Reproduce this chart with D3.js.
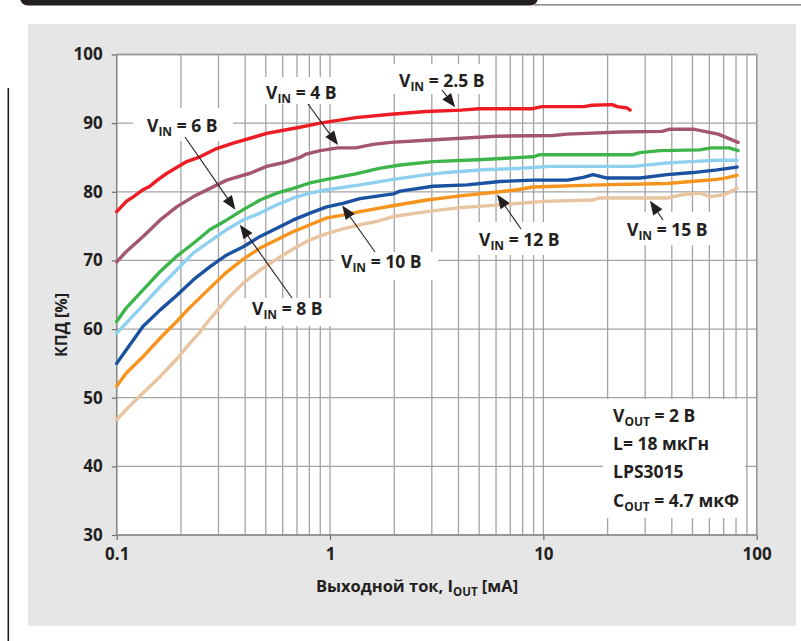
<!DOCTYPE html>
<html>
<head>
<meta charset="utf-8">
<script src="https://cdn.jsdelivr.net/npm/d3@7"></script>
<style>
  html, body { margin: 0; padding: 0; background: #ffffff; }
  svg { display: block; }
  text { font-family: "Open Sans", "Noto Sans", sans-serif; font-weight: 700; fill: #231f20; }
</style>
</head>
<body>
<svg id="chart" width="801" height="641"></svg>
<script>
// Efficiency vs output current, one [I_OUT mA, efficiency %] list per input voltage
const vin2_5 = [[0.1,77.1],[0.111,78.6],[0.12,79.3],[0.133,80.3],[0.143,80.8],[0.155,81.7],[0.172,82.7],[0.213,84.4],[0.246,85.1],[0.294,86.3],[0.352,87.1],[0.422,87.8],[0.505,88.5],[0.615,89.0],[0.723,89.4],[0.898,90.0],[1.32,90.8],[1.93,91.3],[2.82,91.7],[4.11,91.9],[4.99,92.1],[8.85,92.1],[9.86,92.4],[15.5,92.4],[16.9,92.6],[21.0,92.7],[22.2,92.4],[24.7,92.2],[25.5,91.9]];
const vin4 = [[0.1,69.8],[0.111,71.3],[0.133,73.5],[0.16,75.9],[0.191,77.8],[0.229,79.3],[0.274,80.5],[0.328,81.7],[0.422,82.7],[0.505,83.7],[0.615,84.3],[0.723,85.0],[0.772,85.5],[0.9,86.0],[1.09,86.4],[1.32,86.4],[1.59,86.9],[1.93,87.2],[2.82,87.5],[4.11,87.8],[6.0,88.1],[11.1,88.2],[12.9,88.4],[22.9,88.7],[36.0,88.8],[38.8,89.1],[51.0,89.1],[59.2,88.7],[66.0,88.4],[81.8,87.2]];
const vin6 = [[0.1,61.1],[0.111,63.1],[0.133,65.7],[0.16,68.4],[0.191,70.6],[0.229,72.5],[0.274,74.5],[0.328,75.9],[0.392,77.4],[0.47,78.8],[0.563,79.8],[0.673,80.5],[0.806,81.3],[0.965,81.8],[1.32,82.6],[1.7,83.4],[2.13,83.9],[3.04,84.4],[5.22,84.7],[8.95,85.1],[9.65,85.4],[26.3,85.4],[28.4,85.7],[35.2,86.0],[54.0,86.1],[61.2,86.4],[74.2,86.4],[81.8,86.0]];
const vin8 = [[0.1,59.4],[0.111,60.9],[0.133,63.5],[0.16,66.2],[0.191,68.6],[0.229,71.1],[0.274,72.8],[0.328,74.5],[0.392,75.9],[0.47,76.9],[0.563,78.1],[0.673,79.1],[0.806,79.8],[0.965,80.3],[1.38,81.0],[1.98,81.8],[2.84,82.5],[3.5,82.8],[5.22,83.2],[7.53,83.4],[10.75,83.7],[26.3,83.7],[38.0,84.2],[48.8,84.4],[65.2,84.6],[80.9,84.6]];
const vin10 = [[0.1,55.0],[0.111,57.0],[0.133,60.4],[0.16,62.8],[0.191,64.9],[0.229,67.2],[0.274,69.1],[0.328,70.8],[0.392,72.0],[0.47,73.5],[0.563,74.7],[0.673,75.9],[0.806,76.9],[0.965,77.8],[1.15,78.3],[1.38,79.0],[1.98,79.7],[2.13,80.1],[3.04,80.8],[4.39,81.0],[6.27,81.5],[8.95,81.7],[13.0,81.7],[15.4,82.1],[17.1,82.5],[19.9,82.0],[28.4,82.0],[38.0,82.5],[50.3,82.8],[65.2,83.2],[80.9,83.6]];
const vin12 = [[0.1,51.7],[0.111,53.6],[0.133,56.0],[0.16,58.7],[0.191,61.1],[0.221,63.2],[0.274,66.0],[0.328,68.3],[0.392,70.2],[0.47,71.8],[0.563,73.0],[0.673,74.2],[0.806,75.2],[0.965,76.2],[1.15,76.6],[1.38,77.1],[2.0,78.0],[2.84,78.8],[4.07,79.4],[6.27,80.0],[7.53,80.3],[8.95,80.7],[18.3,81.0],[38.0,81.2],[54.3,81.6],[65.2,81.8],[71.0,82.0],[80.9,82.4]];
const vin15 = [[0.1,46.8],[0.111,48.3],[0.133,50.7],[0.16,53.1],[0.191,55.6],[0.213,57.4],[0.246,59.6],[0.274,61.5],[0.328,64.3],[0.392,66.7],[0.47,68.6],[0.563,70.2],[0.673,71.7],[0.806,73.0],[0.965,73.9],[1.15,74.6],[1.38,75.2],[1.66,75.7],[1.98,76.4],[2.84,77.1],[4.07,77.7],[6.27,78.1],[10.1,78.6],[17.1,78.8],[18.3,79.1],[38.0,79.1],[45.3,79.6],[54.3,79.8],[60.5,79.3],[71.0,79.6],[80.9,80.5]];

const seriesNames = ["2.5", "4", "6", "8", "10", "12", "15"];
const seriesColors = ["#ed1c24", "#a4566f", "#3db54a", "#8fd0f0", "#1a51a0", "#f7941e", "#e8c4a0"];
const seriesData = [vin2_5, vin4, vin6, vin8, vin10, vin12, vin15];

const xTickValues = [0.1, 1, 10, 100];
const xTickLabels = ["0.1", "1", "10", "100"];
const yTickValues = [30, 40, 50, 60, 70, 80, 90, 100];

// Callout for each curve: label anchor (px), white backing box (px), arrow tail (px), arrow tip (data)
const callouts = [
  { name: "6",   tx: 147, ty: 132, box: [133, 108, 100, 33], tail: [185, 137], tip: [0.36, 77.4] },
  { name: "4",   tx: 266, ty: 99,  box: [256, 77, 92, 27],   tail: [308, 104], tip: [1.09, 86.8] },
  { name: "2.5", tx: 399, ty: 87,  box: [390, 64, 104, 30],  tail: [442, 90],  tip: [3.86, 92.3] },
  { name: "8",   tx: 252, ty: 315, box: [244, 298, 90, 28],  tail: [292, 298], tip: [0.378, 75.2] },
  { name: "10",  tx: 341, ty: 268, box: [334, 252, 104, 28], tail: [375, 252], tip: [1.14, 78.0] },
  { name: "12",  tx: 479, ty: 246, box: [470, 222, 96, 33],  tail: [521, 229], tip: [6.07, 79.6] },
  { name: "15",  tx: 627, ty: 236, box: [620, 212, 98, 33],  tail: [663, 220], tip: [31.6, 78.7] }
];

const legendLines = [
  { main: "V", sub: "OUT", rest: " = 2 В" },
  { main: "L= 18 мкГн", sub: "", rest: "" },
  { main: "LPS3015", sub: "", rest: "" },
  { main: "C", sub: "OUT", rest: " = 4.7 мкФ" }
];

const svg = d3.select("#chart");

// Page furniture: header bar, rule line, left margin line, grey panel
svg.append("rect").attr("x", 20).attr("y", -10).attr("width", 518).attr("height", 15.5)
  .attr("rx", 8).attr("fill", "#231f20");
svg.append("line").attr("x1", 534).attr("x2", 801).attr("y1", 4.8).attr("y2", 4.8)
  .attr("stroke", "#6d6d6d").attr("stroke-width", 1.3);
svg.append("line").attr("x1", 8.3).attr("x2", 8.3).attr("y1", 88).attr("y2", 641)
  .attr("stroke", "#231f20").attr("stroke-width", 1.6);
svg.append("rect").attr("x", 28).attr("y", 24).attr("width", 768).attr("height", 602)
  .attr("fill", "#e6e6e6");

const x = d3.scaleLog().domain([0.1, 100]).range([116.7, 756.7]);
const y = d3.scaleLinear().domain([30, 100]).range([535, 54.5]);

// Plot area
svg.append("rect").attr("x", x(0.1)).attr("y", y(100))
  .attr("width", x(100) - x(0.1)).attr("height", y(30) - y(100)).attr("fill", "#ffffff");

const gridColor = "#a3a3a3";
const grid = svg.append("g");
grid.selectAll("line.v").data(x.ticks()).join("line")
  .attr("x1", d => x(d)).attr("x2", d => x(d)).attr("y1", y(30)).attr("y2", y(100))
  .attr("stroke", gridColor).attr("stroke-width", 1.3);
grid.selectAll("line.h").data(yTickValues).join("line")
  .attr("x1", x(0.1)).attr("x2", x(100)).attr("y1", d => y(d)).attr("y2", d => y(d))
  .attr("stroke", gridColor).attr("stroke-width", 1.3);

// White boxes behind callout text and the parameter block
svg.append("g").selectAll("rect").data(callouts).join("rect")
  .attr("x", d => d.box[0]).attr("y", d => d.box[1])
  .attr("width", d => d.box[2]).attr("height", d => d.box[3]).attr("fill", "#ffffff");
svg.append("rect").attr("x", 603).attr("y", 399).attr("width", 142).attr("height", 119).attr("fill", "#ffffff");

// Axes
const yAxis = d3.axisLeft(y).tickValues(yTickValues).tickSize(5).tickPadding(9).tickFormat(d3.format("d"));
const xAxis = d3.axisBottom(x).tickValues(xTickValues).tickSize(5).tickPadding(8)
  .tickFormat((d, i) => xTickLabels[i]);

const gy = svg.append("g").attr("transform", `translate(${x(0.1)},0)`).call(yAxis);
const gx = svg.append("g").attr("transform", `translate(0,${y(30)})`).call(xAxis);
[gx, gy].forEach(g => {
  g.select(".domain").attr("stroke", "#8c8c8c").attr("stroke-width", 1.5);
  g.selectAll(".tick line").attr("stroke", "#6d6d6d").attr("stroke-width", 1.2);
  g.selectAll(".tick text").style("font-family", '"Open Sans", sans-serif')
    .style("font-weight", 700).style("font-size", "17px").attr("fill", "#231f20");
});
gx.select(".domain").attr("d", `M${x(0.1)},0H${x(100)}`);
gy.select(".domain").attr("d", `M0,${y(30)}V${y(100)}`);
// frame: top and right edges
svg.append("line").attr("x1", x(0.1)).attr("x2", x(100)).attr("y1", y(100)).attr("y2", y(100))
  .attr("stroke", "#9a9a9a").attr("stroke-width", 1.5);
svg.append("line").attr("x1", x(100)).attr("x2", x(100)).attr("y1", y(100)).attr("y2", y(30))
  .attr("stroke", "#9a9a9a").attr("stroke-width", 1.5);

// Curves
const line = d3.line().x(d => x(d[0])).y(d => y(d[1]));
svg.append("g").selectAll("path").data(seriesData).join("path")
  .attr("d", line).attr("fill", "none")
  .attr("stroke", (d, i) => seriesColors[i])
  .attr("stroke-width", 3.4).attr("stroke-linejoin", "round").attr("stroke-linecap", "round");

// Arrows
const arrows = svg.append("g");
callouts.forEach(c => {
  const tx = x(c.tip[0]), ty = y(c.tip[1]);
  const [sx, sy] = c.tail;
  const ang = Math.atan2(ty - sy, tx - sx);
  const headLen = 14, headHalf = 5.5;
  const bx = tx - headLen * Math.cos(ang), by = ty - headLen * Math.sin(ang);
  arrows.append("line").attr("x1", sx).attr("y1", sy).attr("x2", bx).attr("y2", by)
    .attr("stroke", "#231f20").attr("stroke-width", 1.1);
  const px = -Math.sin(ang) * headHalf, py = Math.cos(ang) * headHalf;
  arrows.append("path")
    .attr("d", `M${tx},${ty}L${bx + px},${by + py}L${bx - px},${by - py}Z`)
    .attr("fill", "#231f20");
});

// Text with a subscript part
function subText(sel, main, sub, rest, subSize) {
  sel.append("tspan").text(main);
  if (sub) {
    sel.append("tspan").attr("dy", 4).style("font-size", subSize + "px").text(sub);
    sel.append("tspan").attr("dy", -4).text(rest);
  }
}
callouts.forEach(c => {
  const t = svg.append("text").attr("x", c.tx).attr("y", c.ty).style("font-size", "17.5px");
  subText(t, "V", "IN", " = " + c.name + " В", 12);
});

// Parameter block
legendLines.forEach((l, i) => {
  const t = svg.append("text").attr("x", 613).attr("y", 421.5 + i * 28.4).style("font-size", "17.5px");
  subText(t, l.main, l.sub, l.rest, 12);
});

// Axis titles
const xt = svg.append("text").attr("x", 417).attr("y", 592).attr("text-anchor", "middle")
  .style("font-size", "16.5px");
xt.append("tspan").text("Выходной ток, I");
xt.append("tspan").attr("dy", 4).style("font-size", "11.5px").text("OUT");
xt.append("tspan").attr("dy", -4).text(" [мА]");

svg.append("text").attr("transform", "translate(67,325) rotate(-90)").attr("text-anchor", "middle")
  .style("font-size", "16px").text("КПД [%]");
</script>
</body>
</html>
